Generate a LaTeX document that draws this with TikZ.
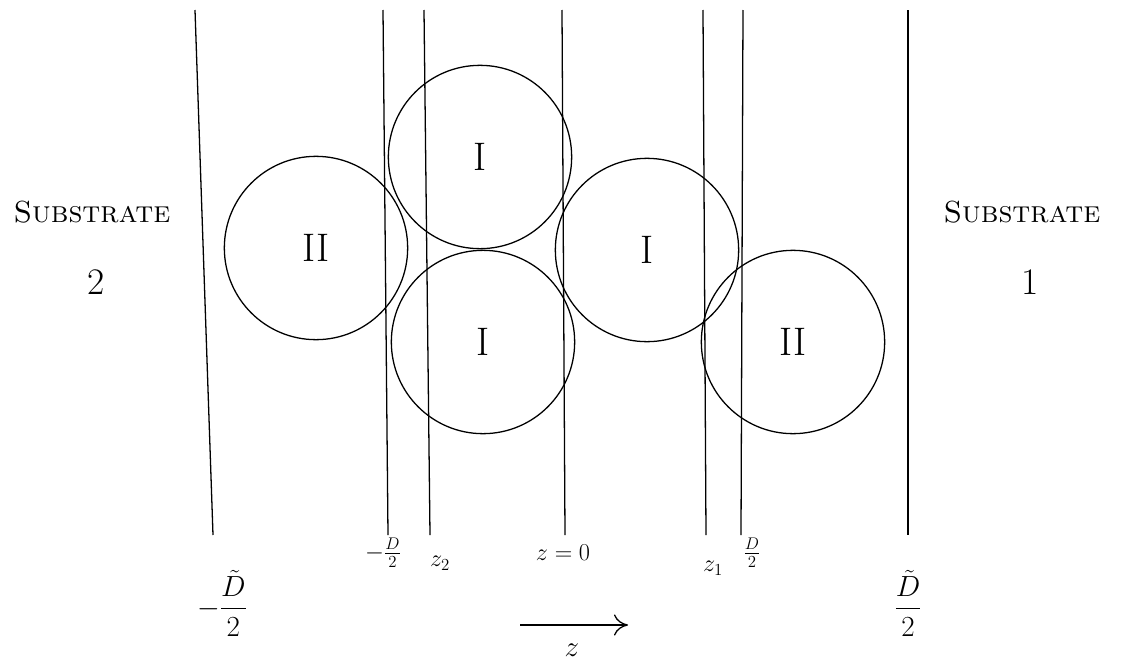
\documentclass[tikz,border=0pt]{standalone}
\usepackage{amsmath}
\usetikzlibrary{positioning,arrows.meta}

\tikzset{
  ball/.style={circle,draw,line width=1.1pt,minimum size=55mm,inner sep=0pt,font=\fontsize{34}{38}\selectfont},
  wall/.style={line width=1.1pt},
  lab/.style={font=\fontsize{20}{24}\selectfont},
  biglab/.style={font=\fontsize{25}{30}\selectfont},
  sub/.style={font=\fontsize{26}{30}\selectfont\scshape}
}

\begin{document}
\begin{tikzpicture}[x=0.3mm,y=-0.3mm]
\useasboundingbox (0,0) rectangle (1129,669);
% planes
\foreach \xa/\xb in {195/213,383/388,424/430,562/565,703/706,743/741,908/908}{\draw[wall] (\xa,10) -- (\xb,535);}
% particles
\node[ball] (leftII) at (316,248) {II};
\node[ball] (topI) at (480,157) {I};
\node[ball] (botI) at (483,342) {I};
\node[ball] (rightI) at (647,250) {I};
\node[ball] (rightII) at (793,342) {II};
% substrates
\node[sub] (sub2) at (92,212) {Substrate};
\node[biglab,font=\fontsize{32}{36}\selectfont] (two) at (96,282) {2};
\node[sub] (sub1) at (1022,212) {Substrate};
\node[biglab,font=\fontsize{32}{36}\selectfont] (one) at (1030,282) {1};
% positions
\node[biglab] (mDt) at (222,603) {$-\dfrac{\tilde D}{2}$};
\node[lab] (mD) at (383,553) {$-\frac{D}{2}$};
\node[lab] (z2) at (440,563) {$z_2$};
\node[lab] (z0) at (563,553) {$z=0$};
\node[lab] (z1) at (713,568) {$z_1$};
\node[lab] (pD) at (752,553) {$\frac{D}{2}$};
\node[biglab] (pDt) at (908,603) {$\dfrac{\tilde D}{2}$};
% axis
\coordinate (zs) at (520,625);
\coordinate (ze) at (628,625);
\draw[wall,-{To[length=12pt,width=18pt]}] (zs) -- (ze);
\node[biglab] (zl) at (572,650) {$z$};
\end{tikzpicture}
\end{document}
